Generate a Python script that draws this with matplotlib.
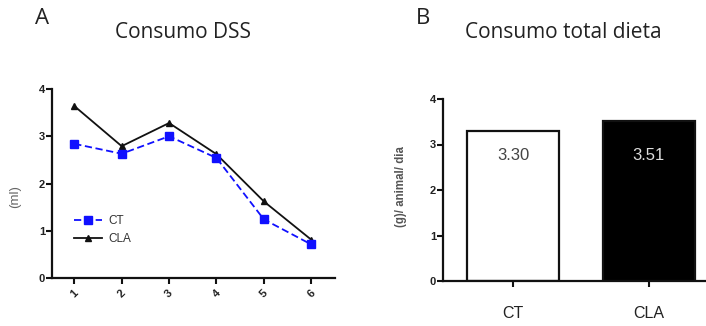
import matplotlib
matplotlib.use("Agg")
import matplotlib.pyplot as plt
from matplotlib.font_manager import FontProperties

# Panel A: DSS consumption per day
days = [1, 2, 3, 4, 5, 6]
ct_dss = [2.84, 2.63, 3.00, 2.54, 1.24, 0.71]
cla_dss = [3.64, 2.79, 3.28, 2.62, 1.62, 0.81]

# Panel B: total diet consumption
groups = ["CT", "CLA"]
diet_total = [3.30, 3.51]

W, H = 706, 326
fig = plt.figure(figsize=(W / 100, H / 100), dpi=100)
fig.patch.set_facecolor("white")

tick_font = FontProperties(family="Liberation Sans", weight="bold", size=8)


def px_rect(x0, y0, x1, y1):
    return [x0 / W, 1 - y1 / H, (x1 - x0) / W, (y1 - y0) / H]


def style_axes(ax):
    for s in ("top", "right"):
        ax.spines[s].set_visible(False)
    for s in ("left", "bottom"):
        ax.spines[s].set_linewidth(1.6)
        ax.spines[s].set_color("#111111")
    ax.tick_params(width=1.5, length=4, color="#111111", pad=1)


# ---- Panel A ----
axA = fig.add_axes(px_rect(52, 89, 335, 278))
style_axes(axA)
axA.plot(days, ct_dss, color="#1010ff", ls=(0, (4, 2)), lw=1.3,
         marker="s", ms=5.5, label="CT", zorder=3)
axA.plot(days, cla_dss, color="#111111", ls="-", lw=1.3,
         marker="^", ms=4.5, label="CLA", zorder=2)
axA.set_xlim(0.53, 6.5)
axA.set_ylim(0, 4)
axA.set_yticks([0, 1, 2, 3, 4])
axA.set_xticks(days)
axA.set_xticklabels([str(d) for d in days], rotation=45,
                    ha="center", va="top")
for lab in axA.get_xticklabels() + axA.get_yticklabels():
    lab.set_fontproperties(tick_font)
    lab.set_color("#222222")
axA.tick_params(axis="x", pad=3)
axA.set_ylabel("(ml)", fontsize=9.5, color="#666666",
               family="Liberation Sans")
axA.yaxis.set_label_coords(-0.11, 0.43)
leg = axA.legend(loc="upper left", bbox_to_anchor=(0.04, 0.39),
                 frameon=False, handlelength=2.4, handletextpad=0.5,
                 labelspacing=0.5, prop=dict(family="Liberation Sans", size=8.5))
for t in leg.get_texts():
    t.set_color("#333333")

# ---- Panel B ----
axB = fig.add_axes(px_rect(443, 99, 706, 281))
style_axes(axB)
colors = ["white", "black"]
xpos = list(range(len(groups)))
bars = axB.bar(xpos, diet_total, width=0.68, color=colors,
               edgecolor="#111111", linewidth=1.6, zorder=2)
axB.set_xlim(-0.515, 1.42)
axB.set_ylim(0, 4)
axB.set_yticks([0, 1, 2, 3, 4])
axB.set_xticks(xpos)
axB.set_xticklabels(groups)
for lab in axB.get_yticklabels():
    lab.set_fontproperties(tick_font)
    lab.set_color("#222222")
for lab in axB.get_xticklabels():
    lab.set_fontproperties(FontProperties(family="Liberation Sans", size=11.5))
    lab.set_color("#222222")
axB.tick_params(axis="x", length=4, pad=14)
axB.set_ylabel("(g)/ animal/ dia", fontsize=8.3, color="#555555",
               family="Liberation Sans", weight="bold")
axB.yaxis.set_label_coords(-0.135, 0.52)
for b, v, c in zip(bars, diet_total, ["#444444", "#dddddd"]):
    axB.text(b.get_x() + b.get_width() / 2, 2.75, f"{v:.2f}",
             ha="center", va="center", fontsize=12,
             family="Liberation Sans", color=c, zorder=3)

# ---- Titles and panel letters ----
fig.text(42 / W, 1 - 18 / H, "A", ha="center", va="center",
         fontsize=16, family="Open Sans", color="#222222")
fig.text(183 / W, 1 - 32 / H, "Consumo DSS", ha="center", va="center",
         fontsize=15, family="Open Sans", color="#222222")
fig.text(423 / W, 1 - 19 / H, "B", ha="center", va="center",
         fontsize=16, family="Open Sans", color="#222222")
fig.text(563 / W, 1 - 32 / H, "Consumo total dieta", ha="center",
         va="center", fontsize=15, family="Open Sans", color="#222222")

fig.savefig("out.png", dpi=100, facecolor="white")
